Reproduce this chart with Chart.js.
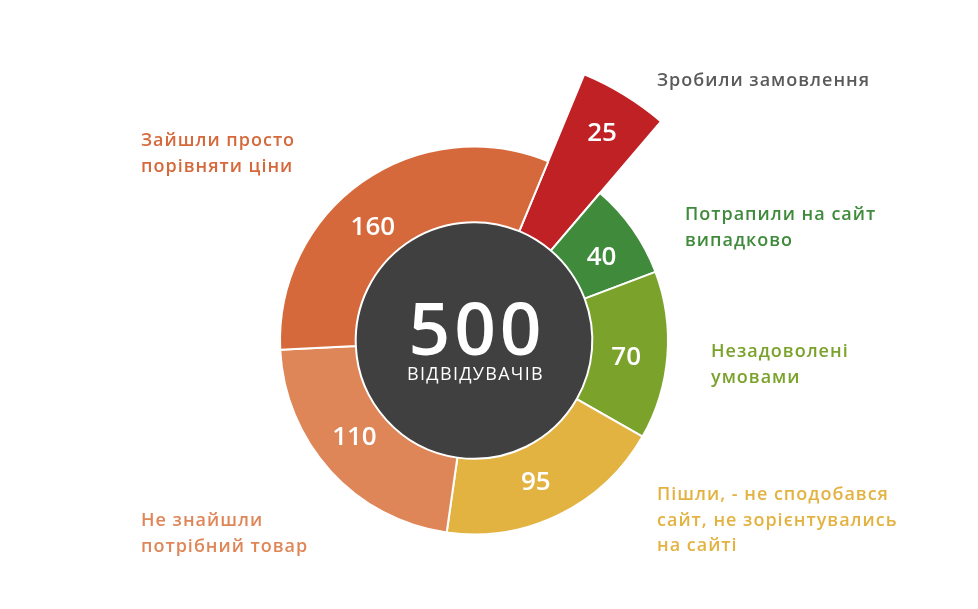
<!DOCTYPE html>
<html>
<head>
<meta charset="utf-8">
<script src="https://cdn.jsdelivr.net/npm/chart.js@4.4.1/dist/chart.umd.min.js"></script>
<style>
  html, body { margin: 0; padding: 0; background: #fff; }
  #wrap { width: 978px; height: 609px; }
</style>
</head>
<body>
<div id="wrap"><canvas id="visitorsChart" width="978" height="609"></canvas></div>
<script>
// Chart data
const categories = [
  "Зробили замовлення",
  "Потрапили на сайт випадково",
  "Незадоволені умовами",
  "Пішли, - не сподобався сайт, не зорієнтувались на сайті",
  "Не знайшли потрібний товар",
  "Зайшли просто порівняти ціни"
];
const visitors = [25, 40, 70, 95, 110, 160];
const sliceColors = ["#C02124", "#3F8B3B", "#7BA22B", "#E3B342", "#DF8658", "#D6693B"];
const labelColors = ["#5A5A5A", "#3F8B3B", "#7BA22B", "#E3B342", "#DF8658", "#D6693B"];
const labelLines = [
  ["Зробили замовлення"],
  ["Потрапили на сайт", "випадково"],
  ["Незадоволені", "умовами"],
  ["Пішли, - не сподобався", "сайт, не зорієнтувались", "на сайті"],
  ["Не знайшли", "потрібний товар"],
  ["Зайшли просто", "порівняти ціни"]
];
const totalLabel = "ВІДВІДУВАЧІВ";
const highlightIndex = 0;

// layout of the text next to the ring (left x, middle of first line)
const labelSpots = [
  [657, 79.5], [685, 213.5], [711, 350.5], [657, 493.5], [141, 519.5], [141, 139.5]
];
// small turn (degrees) of the value text inside each slice
const valueTurn = [0, 1.6, 1.3, 2.3, 3.7, -6.3];
const lineGap = 25.5;
const highlightRadius = 288;
const fontName = "'Open Sans', sans-serif";

const visitorsPlugin = {
  id: "visitorsPlugin",
  afterDatasetsUpdate(chart) {
    // pull the highlighted slice further out
    const arc = chart.getDatasetMeta(0).data[highlightIndex];
    arc.outerRadius = highlightRadius;
  },
  beforeDatasetsDraw(chart) {
    const ctx = chart.ctx;
    const arc = chart.getDatasetMeta(0).data[1];
    ctx.save();
    ctx.beginPath();
    ctx.arc(arc.x, arc.y, arc.innerRadius, 0, Math.PI * 2);
    ctx.fillStyle = "#404040";
    ctx.fill();
    ctx.restore();
  },
  afterDatasetsDraw(chart) {
    const ctx = chart.ctx;
    const meta = chart.getDatasetMeta(0);
    const baseOuter = meta.data[1].outerRadius;
    ctx.save();
    ctx.fillStyle = "#fff";
    ctx.textAlign = "center";
    ctx.textBaseline = "alphabetic";

    // values inside the slices
    ctx.font = "600 26px " + fontName;
    meta.data.forEach(function (arc, i) {
      const angle = (arc.startAngle + arc.endAngle) / 2 + valueTurn[i] * Math.PI / 180;
      let r = 153;
      if (i === highlightIndex) {
        r = (baseOuter + arc.outerRadius) / 2 + 4;
      }
      const x = arc.x + Math.cos(angle) * r;
      const y = arc.y + Math.sin(angle) * r;
      ctx.fillText(visitors[i], x, y + 9.3);
    });

    // total in the middle
    const total = visitors.reduce(function (a, b) { return a + b; }, 0);
    const cx = meta.data[1].x;
    const cy = meta.data[1].y;
    ctx.font = "600 73px " + fontName;
    ctx.letterSpacing = "4px";
    ctx.fillText(total, cx + 3, cy + 14.5);
    ctx.font = "500 18px " + fontName;
    ctx.letterSpacing = "1.3px";
    ctx.fillText(totalLabel, cx + 1.5, cy + 39.5);

    // category labels
    ctx.textAlign = "left";
    ctx.font = "600 18px " + fontName;
    ctx.letterSpacing = "1px";
    labelLines.forEach(function (lines, i) {
      ctx.fillStyle = labelColors[i];
      lines.forEach(function (line, j) {
        ctx.fillText(line, labelSpots[i][0], labelSpots[i][1] + 6.5 + j * lineGap);
      });
    });
    ctx.restore();
  }
};

const ctx = document.getElementById("visitorsChart").getContext("2d");
new Chart(ctx, {
  type: "doughnut",
  data: {
    labels: categories,
    datasets: [
      {
        data: visitors,
        backgroundColor: sliceColors,
        borderColor: "#fff",
        borderWidth: 2,
        radius: 194,
        cutout: 118,
        clip: false
      }
    ]
  },
  options: {
    responsive: false,
    animation: false,
    events: [],
    rotation: 22.5,
    layout: { padding: { left: 180, right: 210, top: 146, bottom: 74 } },
    plugins: {
      legend: { display: false },
      tooltip: { enabled: false }
    }
  },
  plugins: [visitorsPlugin]
});
</script>
</body>
</html>
